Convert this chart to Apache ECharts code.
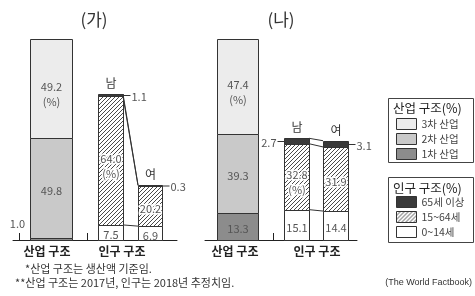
<!DOCTYPE html>
<html><head><meta charset="utf-8">
<script src="https://cdn.jsdelivr.net/npm/echarts@6/dist/echarts.min.js"></script>
<style>html,body{margin:0;padding:0;background:#fff}#c{width:475px;height:296px}</style>
</head><body><div id="c"></div>
<script>
// ---------- data ----------
const panelTitles = ['(가)', '(나)'];
const groupLabels = ['산업 구조', '인구 구조'];
const sexLabels = ['남', '여'];
const industryNames = ['1차 산업', '2차 산업', '3차 산업']; // bottom -> top
const industryA = [1.0, 49.8, 49.2];
const industryB = [13.3, 39.3, 47.4];
const popNames = ['0~14세', '15~64세', '65세 이상']; // bottom -> top
const popMaleA = [7.5, 64.0, 1.1];
const popFemaleA = [6.9, 20.2, 0.3];
const popMaleB = [15.1, 32.8, 2.7];
const popFemaleB = [14.4, 31.9, 3.1];
const legendTitles = ['산업 구조(%)', '인구 구조(%)'];
const footnotes = ['*산업 구조는 생산액 기준임.', '**산업 구조는 2017년, 인구는 2018년 추정치임.'];
const sourceText = '(The World Factbook)';

// ---------- layout / style ----------
const FONT = '"Noto Sans CJK KR", "Noto Sans", sans-serif';
const TXT = '#555';
const layout = [
  { left: 13, width: 164, bars: [[17, 59], [85, 110], [125, 149]], ticks: [6, 74], labelX: [34, 109], titleX: 94,
    side: ['leftUp', 'right', 'right'] },
  { left: 205, width: 152, bars: [[12, 53], [79, 104], [118, 143]], ticks: [68], labelX: [30, 112], titleX: 281,
    side: [null, 'left', 'right'] }
];
function makeHatch() {
  const s = 4, c = document.createElement('canvas');
  c.width = s; c.height = s;
  const g = c.getContext('2d');
  g.fillStyle = '#fff'; g.fillRect(0, 0, s, s);
  g.strokeStyle = '#4a4a4a'; g.lineWidth = 1;
  g.beginPath();
  g.moveTo(0, s); g.lineTo(s, 0);
  g.moveTo(-1, 1); g.lineTo(1, -1);
  g.moveTo(s - 1, s + 1); g.lineTo(s + 1, s - 1);
  g.stroke();
  return c;
}
const hatch = { image: makeHatch(), repeat: 'repeat' };
const industryColors = ['#8c8c8c', '#c9c9c9', '#ececec'];
const popColors = ['#ffffff', hatch, '#3a3a3a'];

const panels = [
  { industry: industryA, male: popMaleA, female: popFemaleA },
  { industry: industryB, male: popMaleB, female: popFemaleB }
];
function cum(arr) { const out = [0]; arr.forEach(v => out.push(+(out[out.length - 1] + v).toFixed(2))); return out; }

function segRender(pi, kind, k, fill) {
  const L = layout[pi];
  return function (params, api) {
    const bi = api.value(0), lo = api.value(1), hi = api.value(2), v = api.value(3);
    const xr = L.bars[bi];
    const a = api.coord([xr[0], hi]), b = api.coord([xr[1], lo]);
    const X0 = Math.round(a[0]) + 0.5, X1 = Math.round(b[0]) + 0.5;
    const Y0 = Math.round(a[1]) + 0.5, Y1 = Math.round(b[1]) + 0.5;
    const kids = [{ type: 'rect', shape: { x: X0, y: Y0, width: X1 - X0, height: Y1 - Y0 },
      style: { fill: fill, stroke: '#333', lineWidth: 1 } }];
    const mid = (Y0 + Y1) / 2;
    const txt = v.toFixed(1);
    const ts = { fill: TXT, fontSize: 11, fontFamily: FONT };
    if (v >= 5) {
      const unit = (kind === 'ind' && k === 2) || (kind === 'pop' && k === 1 && bi === 1);
      const extra = (kind === 'pop' && k === 1) ? { stroke: '#fff', lineWidth: 3 } : {};
      kids.push({ type: 'text', style: Object.assign({ text: unit ? txt + '\n(%)' : txt, x: (X0 + X1) / 2,
        y: mid + (unit ? 5 : 2), align: 'center', verticalAlign: 'middle', lineHeight: 15 }, ts, extra) });
    } else {
      const side = L.side[bi];
      if (side === 'right') {
        kids.push({ type: 'line', shape: { x1: X1, y1: mid, x2: X1 + 7, y2: mid }, style: { stroke: '#333', lineWidth: 1 } });
        kids.push({ type: 'text', style: Object.assign({ text: txt, x: X1 + 8, y: mid + 1, align: 'left', verticalAlign: 'middle' }, ts) });
      } else if (side === 'left') {
        kids.push({ type: 'line', shape: { x1: X0 - 7, y1: mid, x2: X0, y2: mid }, style: { stroke: '#333', lineWidth: 1 } });
        kids.push({ type: 'text', style: Object.assign({ text: txt, x: X0 - 8, y: mid + 1, align: 'right', verticalAlign: 'middle' }, ts) });
      } else if (side === 'leftUp') {
        kids.push({ type: 'text', style: Object.assign({ text: txt, x: X0 - 13, y: Y1 - 17, align: 'center', verticalAlign: 'middle' }, ts) });
      }
    }
    if (kind === 'pop' && k === 2) {
      kids.push({ type: 'text', style: { text: sexLabels[bi - 1], x: (X0 + X1) / 2, y: Y0 - 11, align: 'center',
        verticalAlign: 'middle', fill: '#333', fontSize: 12, fontFamily: FONT } });
    }
    return { type: 'group', children: kids };
  };
}

const grids = [], xAxes = [], yAxes = [], series = [];
panels.forEach((P, pi) => {
  const L = layout[pi];
  grids.push({ left: L.left, width: L.width, top: 39, height: 201 });
  xAxes.push({ type: 'value', gridIndex: pi, min: 0, max: L.width,
    axisLine: { show: true, lineStyle: { color: '#222', width: 1 } }, splitLine: { show: false },
    axisTick: { show: true, customValues: L.ticks, inside: true, length: 7, lineStyle: { color: '#222' } },
    axisLabel: { show: true, customValues: L.labelX, formatter: v => groupLabels[L.labelX.indexOf(v)] || '',
      margin: 5, color: '#222', fontSize: 12, fontWeight: 'bold', fontFamily: FONT } });
  yAxes.push({ type: 'value', gridIndex: pi, min: 0, max: 100, show: false });

  const ci = cum(P.industry);
  P.industry.forEach((v, k) => {
    series.push({ type: 'custom', name: industryNames[k], xAxisIndex: pi, yAxisIndex: pi,
      itemStyle: { color: industryColors[k], borderColor: '#333', borderWidth: 1 },
      data: [[0, ci[k], ci[k + 1], v]], renderItem: segRender(pi, 'ind', k, industryColors[k]) });
  });
  const cm = cum(P.male), cf = cum(P.female);
  popNames.forEach((n, k) => {
    series.push({ type: 'custom', name: n, xAxisIndex: pi, yAxisIndex: pi,
      itemStyle: { color: popColors[k], borderColor: '#333', borderWidth: 1 },
      data: [[1, cm[k], cm[k + 1], P.male[k]], [2, cf[k], cf[k + 1], P.female[k]]],
      renderItem: segRender(pi, 'pop', k, popColors[k]) });
  });
  series.push({ type: 'custom', xAxisIndex: pi, yAxisIndex: pi, silent: true,
    data: cm.slice(1).map((m, i) => [m, cf[i + 1]]),
    renderItem: (params, api) => {
      const a = api.coord([L.bars[1][1], api.value(0)]), b = api.coord([L.bars[2][0], api.value(1)]);
      return { type: 'line', shape: { x1: a[0], y1: a[1], x2: b[0], y2: b[1] }, style: { stroke: '#333', lineWidth: 1 } };
    } });
});

const legendBase = { orient: 'vertical', left: 396, padding: 0, itemWidth: 20, itemHeight: 11, itemGap: 1, icon: 'rect',
  selectedMode: false, textStyle: { fontSize: 10.5, color: '#444', fontFamily: FONT, lineHeight: 14 },
  itemStyle: { borderColor: '#333', borderWidth: 1 } };

const gtext = (t, x, y, extra) => ({ type: 'text', x: x, y: y, style: Object.assign({ text: t, fill: '#333',
  fontFamily: FONT, fontSize: 11, align: 'left', textAlign: 'left', verticalAlign: 'middle', textVerticalAlign: 'middle' }, extra || {}) });

const option = {
  animation: false,
  grid: grids, xAxis: xAxes, yAxis: yAxes, series: series,
  legend: [
    Object.assign({}, legendBase, { top: 117, data: industryNames.slice().reverse() }),
    Object.assign({}, legendBase, { top: 195, data: popNames.slice().reverse() })
  ],
  graphic: [
    gtext(panelTitles[0], layout[0].titleX, 20, { fontSize: 17, align: 'center', textAlign: 'center', fill: '#333' }),
    gtext(panelTitles[1], layout[1].titleX, 20, { fontSize: 17, align: 'center', textAlign: 'center', fill: '#333' }),
    { type: 'rect', shape: { x: 388.5, y: 98.5, width: 85, height: 64 }, style: { fill: 'none', stroke: '#444', lineWidth: 1 } },
    { type: 'rect', shape: { x: 388.5, y: 177.5, width: 85, height: 65 }, style: { fill: 'none', stroke: '#444', lineWidth: 1 } },
    gtext(legendTitles[0], 393, 108, { fontSize: 12.5, fill: '#222' }),
    gtext(legendTitles[1], 393, 188, { fontSize: 12.5, fill: '#222' }),
    gtext(footnotes[0], 25, 269),
    gtext(footnotes[1], 15, 283),
    gtext(sourceText, 472, 283, { fontSize: 9, align: 'right', textAlign: 'right', fontFamily: '"Liberation Sans", Arial, sans-serif' })
  ]
};
const chart = echarts.init(document.getElementById('c'), null, { renderer: 'canvas' });
chart.setOption(option);
</script>
</body></html>
